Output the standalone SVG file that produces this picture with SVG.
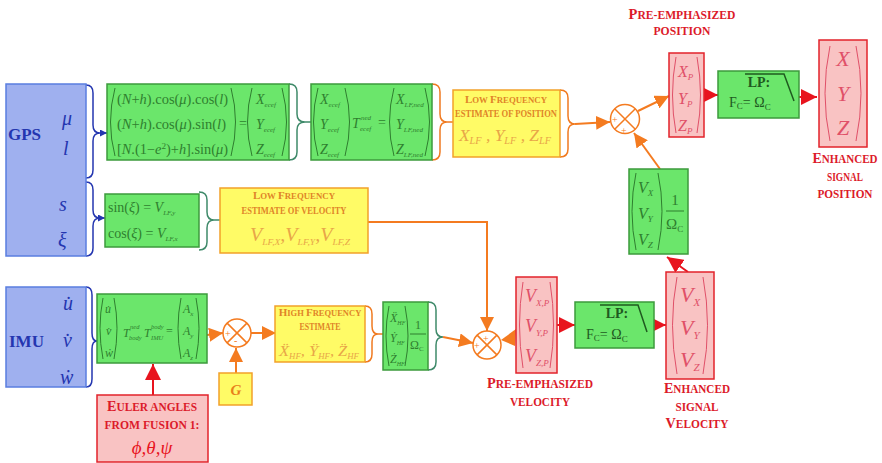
<svg xmlns="http://www.w3.org/2000/svg" width="882" height="463" viewBox="0 0 882 463">
<defs>
<style>
.r{font-family:"Liberation Serif",serif}
.m{font-family:"Liberation Serif",serif;font-style:italic}
.sc{font-family:"Liberation Serif",serif;font-weight:bold}
.g{fill:#6be66b;stroke:#3c9a3c;stroke-width:1.5}
.y{fill:#fffb66;stroke:#f2a12a;stroke-width:1.5}
.p{fill:#f9c3c3;stroke:#e2232b;stroke-width:1.5}
.b{fill:#9fb0ef;stroke:#5a7ee0;stroke-width:1.5}
.gt{fill:#2f7f2f}
.lt{fill:#1f5a1f}
.yt{fill:#e08428}
.ym{fill:#e8a648}
.rt{fill:#dc1a2a}
.rm{fill:#e05068}
.bt{fill:#2436b0}
.pg{fill:none;stroke:#2f7f2f;stroke-width:1}
.pr{fill:none;stroke:#e05068;stroke-width:1}
.bb{fill:none;stroke:#2436b0;stroke-width:1.5}
.bg{fill:none;stroke:#3f8a6a;stroke-width:1.5}
.bo{fill:none;stroke:#f07a20;stroke-width:1.5}
.co{fill:none;stroke:#f47b20;stroke-width:2}
.cr{fill:none;stroke:#e8141e;stroke-width:2}
.sum{fill:#fff;stroke:#f47b20;stroke-width:1.5}
</style>
<marker id="ao" viewBox="0 0 10 10" refX="10" refY="5" markerWidth="14" markerHeight="14" markerUnits="userSpaceOnUse" orient="auto"><path d="M0,0 L10,5 L0,10 z" fill="#f47b20"/></marker>
<marker id="ar" viewBox="0 0 10 10" refX="10" refY="5" markerWidth="16" markerHeight="16" markerUnits="userSpaceOnUse" orient="auto"><path d="M0,0 L10,5 L0,10 z" fill="#e8141e"/></marker>
<marker id="ab" viewBox="0 0 10 10" refX="10" refY="5" markerWidth="7" markerHeight="7" markerUnits="userSpaceOnUse" orient="auto"><path d="M0,0 L10,5 L0,10 z" fill="#2436b0"/></marker>
</defs>
<rect width="882" height="463" fill="#fff"/>

<g id="connectors">
<path class="bb" d="M86,85 Q93,85 93,93 L93,125 Q93,133 100,133 Q93,133 93,141 L93,170 Q93,178 86,178"/>
<line x1="100" y1="133" x2="107" y2="133" stroke="#2436b0" stroke-width="1.5" marker-end="url(#ab)"/>
<path class="bb" d="M86,182 Q93,182 93,190 L93,210 Q93,218 100,218 Q93,218 93,226 L93,248 Q93,256 86,256"/>
<line x1="100" y1="218" x2="105" y2="218" stroke="#2436b0" stroke-width="1.5" marker-end="url(#ab)"/>
<path class="bb" d="M86,287 Q92,287 92,295 L92,333 Q92,341 97,341 Q92,341 92,349 L92,379 Q92,387 86,387"/>
<path class="bg" d="M289,84 Q297,84 297,92 L297,114 Q297,122 305,122 Q297,122 297,130 L297,152 Q297,160 289,160 M305,122 L311,122"/>
<path class="bo" d="M432,84 Q440,84 440,92 L440,114 Q440,122 447,122 Q440,122 440,130 L440,152 Q440,160 432,160 M447,122 L453,122"/>
<path class="bo" d="M560,90 Q568,90 568,98 L568,116 Q568,124 575,124 Q568,124 568,132 L568,149 Q568,157 560,157"/>
<line class="co" x1="575" y1="124" x2="610" y2="122" marker-end="url(#ao)"/>
<path class="bg" d="M199,192 Q207,192 207,200 L207,212 Q207,220 214,220 Q207,220 207,228 L207,242 Q207,250 199,250 M214,220 L220,220"/>
<path class="co" d="M368,222 L487,222 L487,331" marker-end="url(#ao)"/>
<path class="bo" d="M365,306 Q372,306 372,314 L372,326 Q372,334 378,334 Q372,334 372,342 L372,354 Q372,362 365,362 M378,334 L383,334"/>
<path class="bg" d="M428,302 Q436,302 436,310 L436,329 Q436,337 443,337 Q436,337 436,345 L436,362 Q436,370 428,370"/>
<line class="co" x1="443" y1="337" x2="473" y2="343" marker-end="url(#ao)"/>
<polygon points="501,340 516,329 515,346" fill="#f47b20"/>
<line class="co" x1="207" y1="335" x2="223" y2="333" marker-end="url(#ao)"/>
<line class="co" x1="251" y1="333" x2="276" y2="333" marker-end="url(#ao)"/>
<line class="co" x1="236" y1="373" x2="236" y2="348" marker-end="url(#ao)"/>
<line class="cr" x1="153" y1="395" x2="153" y2="364" marker-end="url(#ar)"/>
<line class="co" x1="638" y1="111" x2="669" y2="96" marker-end="url(#ao)"/>
<line class="co" x1="660" y1="169" x2="634" y2="133" marker-end="url(#ao)"/>
<line class="cr" x1="704" y1="95" x2="718" y2="95" marker-end="url(#ar)"/>
<line class="cr" x1="799" y1="97" x2="817" y2="97" marker-end="url(#ar)"/>
<line class="cr" x1="557" y1="325" x2="575" y2="325" marker-end="url(#ar)"/>
<line class="cr" x1="654" y1="325" x2="666" y2="325" marker-end="url(#ar)"/>
<line class="cr" x1="688" y1="272" x2="667" y2="257" marker-end="url(#ar)"/>
</g>

<g id="gps">
<rect class="b" x="6" y="84" width="80" height="172"/>
<text class="r bt" x="8" y="140" font-size="17" font-weight="bold">GPS</text>
<text class="m bt" x="62" y="125" font-size="20">μ</text>
<text class="m bt" x="63" y="155" font-size="20">l</text>
<text class="m bt" x="59" y="211" font-size="20">s</text>
<text class="m bt" x="58" y="247" font-size="20">ξ</text>
</g>

<g id="imu">
<rect class="b" x="6" y="287" width="80" height="100"/>
<text class="r bt" x="9" y="347" font-size="17" font-weight="bold">IMU</text>
<text class="m bt" x="63" y="310" font-size="20">u̇</text>
<text class="m bt" x="63" y="347" font-size="20">v̇</text>
<text class="m bt" x="60" y="384" font-size="20">ẇ</text>
</g>

<g id="ecef-eq">
<rect class="g" x="107" y="84" width="182" height="76"/>
<path class="pg" d="M115,88 Q106,122 115,156 M231,88 Q240,122 231,156 M252,88 Q243,122 252,156 M282,88 Q291,122 282,156"/>
<text class="r gt" x="117" y="104" font-size="14" textLength="111" lengthAdjust="spacingAndGlyphs">(<tspan class="m">N</tspan>+<tspan class="m">h</tspan>).cos(<tspan class="m">μ</tspan>).cos(<tspan class="m">l</tspan>)</text>
<text class="r gt" x="117" y="129" font-size="14" textLength="109" lengthAdjust="spacingAndGlyphs">(<tspan class="m">N</tspan>+<tspan class="m">h</tspan>).cos(<tspan class="m">μ</tspan>).sin(<tspan class="m">l</tspan>)</text>
<text class="r gt" x="117" y="154" font-size="14" textLength="111" lengthAdjust="spacingAndGlyphs">[<tspan class="m">N</tspan>.(1−<tspan class="m">e</tspan><tspan font-size="9" dy="-5">2</tspan><tspan dy="5">)+</tspan><tspan class="m">h</tspan>].sin(<tspan class="m">μ</tspan>)</text>
<text class="r gt" x="239" y="128" font-size="14">=</text>
<text class="m gt" x="256" y="104" font-size="14">X<tspan font-size="7" dy="3">ecef</tspan></text>
<text class="m gt" x="256" y="129" font-size="14">Y<tspan font-size="7" dy="3">ecef</tspan></text>
<text class="m gt" x="256" y="154" font-size="14">Z<tspan font-size="7" dy="3">ecef</tspan></text>
</g>

<g id="ned-eq">
<rect class="g" x="311" y="84" width="121" height="76"/>
<path class="pg" d="M318,88 Q309,122 318,156 M345,88 Q354,122 345,156 M394,88 Q385,122 394,156 M425,88 Q434,122 425,156"/>
<text class="m gt" x="320" y="104" font-size="14">X<tspan font-size="7" dy="3">ecef</tspan></text>
<text class="m gt" x="320" y="129" font-size="14">Y<tspan font-size="7" dy="3">ecef</tspan></text>
<text class="m gt" x="320" y="154" font-size="14">Z<tspan font-size="7" dy="3">ecef</tspan></text>
<text class="m gt" x="352" y="128" font-size="14">T</text>
<text class="m gt" x="361" y="120" font-size="7">ned</text>
<text class="m gt" x="360" y="131" font-size="7">ecef</text>
<text class="r gt" x="378" y="127" font-size="14">=</text>
<text class="m gt" x="396" y="104" font-size="14">X<tspan font-size="7" dy="3">LF,ned</tspan></text>
<text class="m gt" x="396" y="129" font-size="14">Y<tspan font-size="7" dy="3">LF,ned</tspan></text>
<text class="m gt" x="396" y="154" font-size="14">Z<tspan font-size="7" dy="3">LF,ned</tspan></text>
</g>

<g id="lf-position">
<rect class="y" x="453" y="90" width="107" height="67"/>
<text class="sc yt" x="506" y="103" font-size="8.8" text-anchor="middle"><tspan font-size="11">L</tspan>OW <tspan font-size="11">F</tspan>REQUENCY</text>
<text class="sc yt" x="506" y="117" font-size="9.5" text-anchor="middle" textLength="102" lengthAdjust="spacingAndGlyphs">ESTIMATE OF POSITION</text>
<text class="m ym" x="459" y="141" font-size="17" textLength="92" lengthAdjust="spacingAndGlyphs">X<tspan font-size="10" dy="3">LF</tspan><tspan dy="-3"> , Y</tspan><tspan font-size="10" dy="3">LF</tspan><tspan dy="-3"> , Z</tspan><tspan font-size="10" dy="3">LF</tspan></text>
</g>

<g id="sum-position">
<circle class="sum" cx="625" cy="119" r="14.5"/>
<path d="M614.7,108.7 L635.3,129.3 M635.3,108.7 L614.7,129.3" stroke="#f47b20" stroke-width="1.5"/>
<text class="r" x="612" y="123" font-size="10" fill="#f47b20">+</text>
<text class="r" x="621" y="134" font-size="10" fill="#f47b20">+</text>
</g>

<g id="pre-position">
<text class="sc rt" x="682" y="19" font-size="12" text-anchor="middle" textLength="107" lengthAdjust="spacingAndGlyphs"><tspan font-size="15">P</tspan>RE-EMPHASIZED</text>
<text class="sc rt" x="682" y="35" font-size="12" text-anchor="middle" textLength="57" lengthAdjust="spacingAndGlyphs">POSITION</text>
<rect class="p" x="669" y="53" width="35" height="84"/>
<path class="pr" d="M676,57 Q669,95 676,133 M697,57 Q704,95 697,133"/>
<text class="m rm" x="678" y="77" font-size="16">X<tspan font-size="9" dy="3">P</tspan></text>
<text class="m rm" x="678" y="104" font-size="16">Y<tspan font-size="9" dy="3">P</tspan></text>
<text class="m rm" x="678" y="131" font-size="16">Z<tspan font-size="9" dy="3">P</tspan></text>
</g>

<g id="lp-position">
<rect class="g" x="718" y="71" width="81" height="47"/>
<path d="M745,74 L784,74 L794,101" fill="none" stroke="#1f5a1f" stroke-width="1.5"/>
<text class="r lt" x="759" y="87" font-size="14" font-weight="bold" text-anchor="middle">LP:</text>
<text class="r lt" x="729" y="107" font-size="14">F<tspan font-size="9" dy="2">C</tspan><tspan dy="-2">= Ω</tspan><tspan font-size="9" dy="3">C</tspan></text>
</g>

<g id="enhanced-position">
<rect class="p" x="819" y="40" width="48" height="107"/>
<path class="pr" d="M830,46 Q820,93 830,141 M856,46 Q866,93 856,141"/>
<text class="m rm" x="843" y="66" font-size="22" text-anchor="middle">X</text>
<text class="m rm" x="843" y="101" font-size="22" text-anchor="middle">Y</text>
<text class="m rm" x="843" y="135" font-size="22" text-anchor="middle">Z</text>
<text class="sc rt" x="845" y="163" font-size="12" text-anchor="middle" textLength="65" lengthAdjust="spacingAndGlyphs"><tspan font-size="15">E</tspan>NHANCED</text>
<text class="sc rt" x="845" y="181" font-size="12" text-anchor="middle" textLength="36" lengthAdjust="spacingAndGlyphs">SIGNAL</text>
<text class="sc rt" x="845" y="198" font-size="12" text-anchor="middle" textLength="55" lengthAdjust="spacingAndGlyphs">POSITION</text>
</g>

<g id="v-over-omega">
<rect class="g" x="629" y="169" width="59" height="85"/>
<path class="pg" d="M636,173 Q628,211 636,250 M658,173 Q666,211 658,250"/>
<text class="m gt" x="638" y="193" font-size="16">V<tspan font-size="9" dy="3">X</tspan></text>
<text class="m gt" x="638" y="219" font-size="16">V<tspan font-size="9" dy="3">Y</tspan></text>
<text class="m gt" x="638" y="245" font-size="16">V<tspan font-size="9" dy="3">Z</tspan></text>
<text class="r gt" x="675" y="205" font-size="15" text-anchor="middle">1</text>
<line x1="666" y1="211" x2="684" y2="211" stroke="#2f7f2f" stroke-width="1"/>
<text class="r gt" x="666" y="229" font-size="15">Ω<tspan font-size="9" dy="3">C</tspan></text>
</g>

<g id="sincos">
<rect class="g" x="105" y="194" width="94" height="53"/>
<text class="r gt" x="108" y="212" font-size="14">sin(<tspan class="m">ξ</tspan>) = <tspan class="m">V</tspan><tspan class="m" font-size="7" dy="3">LF,y</tspan></text>
<text class="r gt" x="108" y="238" font-size="14">cos(<tspan class="m">ξ</tspan>) = <tspan class="m">V</tspan><tspan class="m" font-size="7" dy="3">LF,x</tspan></text>
</g>

<g id="lf-velocity">
<rect class="y" x="220" y="188" width="148" height="65"/>
<text class="sc yt" x="294" y="199" font-size="8.8" text-anchor="middle"><tspan font-size="11">L</tspan>OW <tspan font-size="11">F</tspan>REQUENCY</text>
<text class="sc yt" x="294" y="214" font-size="9.5" text-anchor="middle" textLength="105" lengthAdjust="spacingAndGlyphs">ESTIMATE OF VELOCITY</text>
<text class="m ym" x="250" y="241" font-size="19" textLength="100" lengthAdjust="spacingAndGlyphs">V<tspan font-size="9" dy="4">LF,X</tspan><tspan dy="-4">,V</tspan><tspan font-size="9" dy="4">LF,Y</tspan><tspan dy="-4">,V</tspan><tspan font-size="9" dy="4">LF,Z</tspan></text>
</g>

<g id="imu-eq">
<rect class="g" x="97" y="294" width="110" height="69"/>
<path class="pg" d="M103,298 Q97,328 103,359 M114,298 Q120,328 114,359 M181,298 Q175,328 181,359 M196,298 Q202,328 196,359"/>
<text class="m gt" x="105" y="313" font-size="12">u̇</text>
<text class="m gt" x="106" y="335" font-size="12">v̇</text>
<text class="m gt" x="105" y="357" font-size="12">ẇ</text>
<text class="m gt" x="123" y="337" font-size="12">T</text>
<text class="m gt" x="130" y="329" font-size="6.5">ned</text>
<text class="m gt" x="129" y="340" font-size="6.5">body</text>
<text class="m gt" x="144" y="337" font-size="12">T</text>
<text class="m gt" x="151" y="329" font-size="6.5">body</text>
<text class="m gt" x="151" y="340" font-size="6.5">IMU</text>
<text class="r gt" x="166" y="335" font-size="12">=</text>
<text class="m gt" x="183" y="313" font-size="12">A<tspan font-size="7" dy="3">x</tspan></text>
<text class="m gt" x="183" y="335" font-size="12">A<tspan font-size="7" dy="3">y</tspan></text>
<text class="m gt" x="183" y="357" font-size="12">A<tspan font-size="7" dy="3">z</tspan></text>
</g>

<g id="euler">
<rect class="p" x="97" y="395" width="111" height="67"/>
<text class="sc rt" x="152" y="411" font-size="12" text-anchor="middle" textLength="90" lengthAdjust="spacingAndGlyphs"><tspan font-size="15">E</tspan>ULER ANGLES</text>
<text class="sc rt" x="152" y="429" font-size="12" text-anchor="middle" textLength="95" lengthAdjust="spacingAndGlyphs">FROM FUSION 1:</text>
<text class="m" x="152" y="454" font-size="19" text-anchor="middle" fill="#e8141e">ϕ,θ,ψ</text>
</g>

<g id="sum-imu">
<circle class="sum" cx="237" cy="333" r="14"/>
<path d="M227.1,323.1 L246.9,342.9 M246.9,323.1 L227.1,342.9" stroke="#f47b20" stroke-width="1.5"/>
<text class="r" x="225" y="337" font-size="10" fill="#f47b20">+</text>
<text class="r" x="234" y="344" font-size="10" fill="#f47b20">-</text>
</g>

<g id="gravity">
<rect class="y" x="219" y="373" width="33" height="32"/>
<text class="m" x="236" y="395" font-size="15" font-weight="bold" text-anchor="middle" fill="#e8801a">G</text>
</g>

<g id="hf-estimate">
<rect class="y" x="275" y="306" width="90" height="56"/>
<text class="sc yt" x="320" y="316" font-size="8.5" text-anchor="middle"><tspan font-size="11">H</tspan>IGH <tspan font-size="11">F</tspan>REQUENCY</text>
<text class="sc yt" x="320" y="330" font-size="9.5" text-anchor="middle" textLength="41" lengthAdjust="spacingAndGlyphs">ESTIMATE</text>
<text class="m ym" x="279" y="356" font-size="15" textLength="80" lengthAdjust="spacingAndGlyphs">Ẍ<tspan font-size="8" dy="3">HF</tspan><tspan dy="-3">, Ÿ</tspan><tspan font-size="8" dy="3">HF</tspan><tspan dy="-3">, Z̈</tspan><tspan font-size="8" dy="3">HF</tspan></text>
</g>

<g id="hf-over-omega">
<rect class="g" x="383" y="302" width="45" height="68"/>
<path class="pg" d="M389,306 Q383,336 389,366 M405,306 Q411,336 405,366"/>
<text class="m gt" x="390" y="322" font-size="12">Ẍ<tspan font-size="6" dy="3">HF</tspan></text>
<text class="m gt" x="390" y="342" font-size="12">Ẏ<tspan font-size="6" dy="3">HF</tspan></text>
<text class="m gt" x="390" y="363" font-size="12">Ż<tspan font-size="6" dy="3">HF</tspan></text>
<text class="r gt" x="418" y="329" font-size="12" text-anchor="middle">1</text>
<line x1="410" y1="334" x2="426" y2="334" stroke="#2f7f2f" stroke-width="1"/>
<text class="r gt" x="410" y="349" font-size="12">Ω<tspan font-size="7" dy="2">C</tspan></text>
</g>

<g id="sum-velocity">
<circle class="sum" cx="487" cy="345" r="14"/>
<path d="M477.1,335.1 L496.9,354.9 M496.9,335.1 L477.1,354.9" stroke="#f47b20" stroke-width="1.5"/>
<text class="r" x="483" y="342" font-size="10" fill="#f47b20">+</text>
<text class="r" x="474" y="349" font-size="10" fill="#f47b20">+</text>
</g>

<g id="pre-velocity">
<rect class="p" x="516" y="277" width="41" height="96"/>
<path class="pr" d="M523,282 Q516,325 523,368 M550,282 Q557,325 550,368"/>
<text class="m rm" x="525" y="302" font-size="18">V<tspan font-size="9" dy="4">X,P</tspan></text>
<text class="m rm" x="525" y="332" font-size="18">V<tspan font-size="9" dy="4">Y,P</tspan></text>
<text class="m rm" x="525" y="362" font-size="18">V<tspan font-size="9" dy="4">Z,P</tspan></text>
<text class="sc rt" x="540" y="388" font-size="12" text-anchor="middle" textLength="106" lengthAdjust="spacingAndGlyphs"><tspan font-size="15">P</tspan>RE-EMPHASIZED</text>
<text class="sc rt" x="540" y="406" font-size="12" text-anchor="middle" textLength="60" lengthAdjust="spacingAndGlyphs">VELOCITY</text>
</g>

<g id="lp-velocity">
<rect class="g" x="575" y="302" width="79" height="46"/>
<path d="M600,305 L638,305 L647,332" fill="none" stroke="#1f5a1f" stroke-width="1.5"/>
<text class="r lt" x="617" y="318" font-size="14" font-weight="bold" text-anchor="middle">LP:</text>
<text class="r lt" x="586" y="339" font-size="14">F<tspan font-size="9" dy="2">C</tspan><tspan dy="-2">= Ω</tspan><tspan font-size="9" dy="3">C</tspan></text>
</g>

<g id="enhanced-velocity">
<rect class="p" x="666" y="272" width="48" height="107"/>
<path class="pr" d="M677,277 Q668,325 677,374 M703,277 Q712,325 703,374"/>
<text class="m rm" x="680" y="302" font-size="22">V<tspan font-size="11" dy="4">X</tspan></text>
<text class="m rm" x="680" y="335" font-size="22">V<tspan font-size="11" dy="4">Y</tspan></text>
<text class="m rm" x="680" y="367" font-size="22">V<tspan font-size="11" dy="4">Z</tspan></text>
<text class="sc rt" x="697" y="393" font-size="12" text-anchor="middle" textLength="66" lengthAdjust="spacingAndGlyphs"><tspan font-size="15">E</tspan>NHANCED</text>
<text class="sc rt" x="697" y="411" font-size="12" text-anchor="middle" textLength="43" lengthAdjust="spacingAndGlyphs">SIGNAL</text>
<text class="sc rt" x="697" y="428" font-size="12" text-anchor="middle" textLength="63" lengthAdjust="spacingAndGlyphs"><tspan font-size="15">V</tspan>ELOCITY</text>
</g>
</svg>
